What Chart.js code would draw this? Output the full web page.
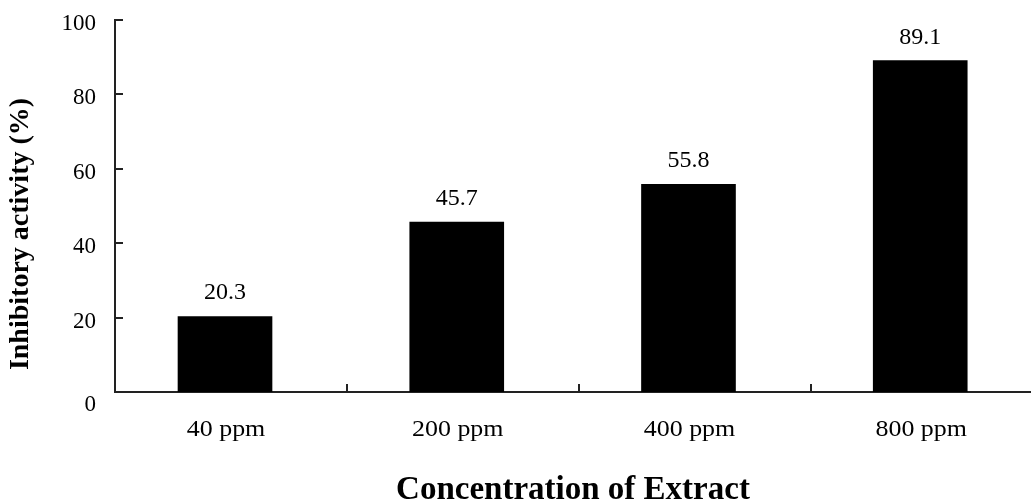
<!DOCTYPE html>
<html>
<head>
<meta charset="utf-8">
<script src="https://cdn.jsdelivr.net/npm/chart.js@4/dist/chart.umd.min.js"></script>
<style>
html,body{margin:0;padding:0;background:#fff;overflow:hidden;}
#wrap{width:1031px;height:502px;position:relative;}
</style>
</head>
<body>
<div id="wrap"><canvas id="c" width="1031" height="502"></canvas></div>
<script>
const categories = ["40 ppm", "200 ppm", "400 ppm", "800 ppm"];
const inhibition = [20.3, 45.7, 55.8, 89.1];
const valueLabels = ["20.3", "45.7", "55.8", "89.1"];
const yTicks = [0, 20, 40, 60, 80, 100];
const xTitle = "Concentration of Extract";
const yTitle = "Inhibitory activity (%)";

const FONT = "'Liberation Serif', 'Times New Roman', serif";

function drawText(ctx, txt, x, y, font, sx, align) {
  ctx.save();
  ctx.font = font;
  ctx.textAlign = align || 'center';
  ctx.textBaseline = 'alphabetic';
  ctx.translate(x, y);
  ctx.scale(sx, 1);
  ctx.fillText(txt, 0, 0);
  ctx.restore();
}

const decor = {
  id: 'decor',
  afterDraw(chart) {
    const ctx = chart.ctx;
    const xs = chart.scales.x, ys = chart.scales.y;
    const area = chart.chartArea;
    ctx.save();
    ctx.strokeStyle = '#222';
    ctx.fillStyle = '#000';
    ctx.lineWidth = 2;
    // y tick marks (inside) and labels
    ys.ticks.forEach(t => {
      const y = Math.round(ys.getPixelForValue(t.value));
      if (t.value !== 0) {
        ctx.beginPath();
        ctx.moveTo(area.left, y);
        ctx.lineTo(area.left + 8, y);
        ctx.stroke();
      }
      const dy = t.value === 0 ? 19 : 10;
      drawText(ctx, String(t.value), area.left - 19, y + dy, "23px " + FONT, 1.0, 'right');
    });
    // x boundary tick marks (inside)
    for (let i = 0; i < categories.length - 1; i++) {
      const x = Math.round((xs.getPixelForValue(i) + xs.getPixelForValue(i + 1)) / 2 + 6.5);
      ctx.beginPath();
      ctx.moveTo(x, area.bottom);
      ctx.lineTo(x, area.bottom - 8);
      ctx.stroke();
    }
    // category labels
    categories.forEach((c, i) => {
      drawText(ctx, c, xs.getPixelForValue(i) + 1, area.bottom + 44, "24px " + FONT, 1.08, 'center');
    });
    // value labels
    const meta = chart.getDatasetMeta(0);
    meta.data.forEach((bar, i) => {
      drawText(ctx, valueLabels[i], bar.x, bar.y - 17, "24px " + FONT, 1.0, 'center');
    });
    // axis titles
    drawText(ctx, xTitle, 573, 499, "bold 33px " + FONT, 1.0, 'center');
    ctx.translate(21, 234);
    ctx.rotate(-Math.PI / 2);
    ctx.font = "bold 28px " + FONT;
    ctx.textAlign = 'center';
    ctx.textBaseline = 'middle';
    ctx.fillText(yTitle, 0, 0);
    ctx.restore();
  }
};

new Chart(document.getElementById('c'), {
  type: 'bar',
  data: {
    datasets: [{
      data: inhibition.map((v, i) => ({ x: i, y: v })),
      backgroundColor: '#000',
      borderWidth: 0,
      barThickness: 94
    }]
  },
  options: {
    responsive: false,
    animation: false,
    devicePixelRatio: 1,
    layout: { padding: { top: 20, right: 0, left: 0, bottom: 0 } },
    plugins: { legend: { display: false }, tooltip: { enabled: false } },
    scales: {
      x: {
        type: 'linear',
        offset: false,
        min: -0.4747,
        max: 3.478,
        grid: { display: false, drawTicks: false, offset: false },
        border: { display: true, color: '#222', width: 2 },
        afterFit(s) { s.height = 110; },
        afterBuildTicks(s) { s.ticks = categories.map((c, i) => ({ value: i })); },
        ticks: { display: false }
      },
      y: {
        min: 0,
        max: 100,
        grid: { display: false, drawTicks: false },
        border: { display: true, color: '#222', width: 2 },
        afterFit(s) { s.width = 115; },
        afterBuildTicks(s) { s.ticks = yTicks.map(v => ({ value: v })); },
        ticks: { display: false }
      }
    }
  },
  plugins: [decor]
});
</script>
</body>
</html>
